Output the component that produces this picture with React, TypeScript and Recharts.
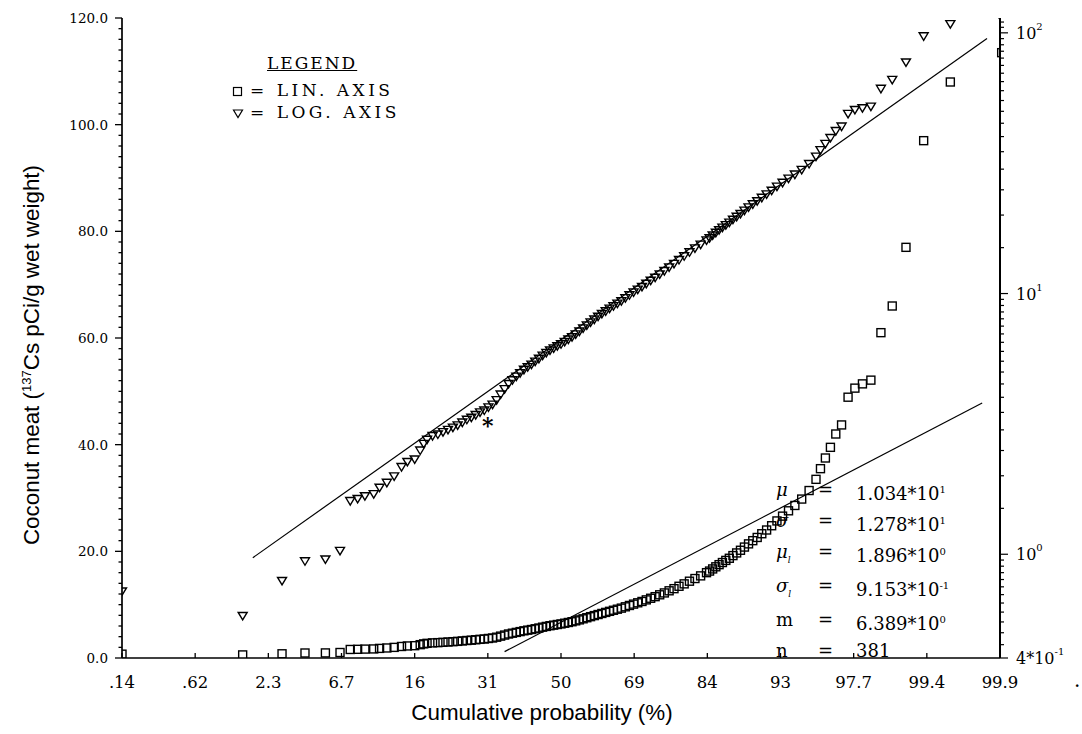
import React from 'react';
import { ComposedChart, Scatter, Line, XAxis, YAxis } from 'recharts';

// cumulative probability (%) of each plotted sample
const cumProb = [
  0.135, 1.48, 2.83, 4.01, 5.37, 6.55, 7.49, 8.23, 9.01, 10.03, 10.75, 11.7, 12.71, 13.79, 14.69, 15.87, 16.8, 17.4,
  18, 19, 20, 21, 22, 23, 24, 25, 26, 27, 28, 29, 30, 31, 32, 33, 34, 35, 36, 37, 38, 39, 40, 41, 42, 43, 44, 45,
  46, 47, 48, 49, 50, 51, 52, 53, 54, 55, 56, 57, 58, 59, 60, 61, 62, 63, 64, 65, 66, 67, 68, 69, 70, 71, 72, 73,
  74, 75, 76, 77, 78, 79, 80, 81, 82, 83, 84,
  84.5, 85, 85.5, 86, 86.5, 87, 87.5, 88, 88.5, 89, 89.5, 90, 90.5, 91, 91.5, 92, 92.5, 93, 93.5, 94, 94.5, 95, 95.5,
  95.93, 96.19, 96.46, 96.72, 96.98, 97.24, 97.51, 97.77, 98.03, 98.29, 98.56, 98.82, 99.08, 99.34, 99.61, 99.87,
];
// 137Cs, pCi/g wet weight (same samples drawn on the linear and the log axis)
const conc = [
  0.72, 0.58, 0.79, 0.94, 0.955, 1.03, 1.6, 1.63, 1.67, 1.7, 1.8, 1.88, 1.99, 2.16, 2.26, 2.31, 2.5, 2.65,
  2.75, 2.84, 2.88, 2.94, 3.0, 3.06, 3.12, 3.2, 3.28, 3.34, 3.42, 3.5, 3.56, 3.66, 3.75, 3.9, 4.1, 4.3, 4.5, 4.65,
  4.8, 4.95, 5.1, 5.22, 5.34, 5.48, 5.62, 5.78,
  5.92, 6.05, 6.16, 6.28, 6.39, 6.52, 6.66, 6.8, 6.97, 7.15, 7.35, 7.55, 7.75, 7.95, 8.15, 8.35, 8.55, 8.75, 8.95, 9.15,
  9.35, 9.6, 9.85, 10.1, 10.35, 10.6, 10.9, 11.2,
  11.5, 11.85, 12.2, 12.6, 13.0, 13.45, 13.9, 14.4, 14.9, 15.4, 16.0,
  16.3, 16.7, 17.1, 17.5, 17.9, 18.3, 18.7, 19.2, 19.7, 20.2, 20.8, 21.4, 22.0, 22.6, 23.3, 24.0, 24.8, 25.7, 26.6,
  27.6, 28.6, 29.8, 31.4,
  33.5, 35.5, 37.5, 39.5, 42.0, 43.7, 48.9, 50.6, 51.4, 52.1, 61, 66, 77, 97, 108, 113.5,
];

// fitted lines, end points
const linFitProb = [35, 99.8];
const linFitConc = [1.2, 47.8];
const logFitProb = [1.76, 99.82];
const logFitConc = [0.97, 95.2];

const xTickZ = [-3, -2.5, -2, -1.5, -1, -0.5, 0, 0.5, 1, 1.5, 2, 2.5, 3];
const xTickLabels = ['.14', '.62', '2.3', '6.7', '16', '31', '50', '69', '84', '93', '97.7', '99.4', '99.9'];
const linMajor = [0, 20, 40, 60, 80, 100, 120];
const logMajor = [0.4, 1, 10, 100];
const logMajorLabels = [['4*10', '-1'], ['10', '0'], ['10', '1'], ['10', '2']];

// inverse normal cdf (Acklam) -> probability paper scale
function probit(p: number) {
  const a = [-39.69683028665376, 220.9460984245205, -275.9285104469687, 138.357751867269, -30.66479806614716, 2.506628277459239];
  const b = [-54.47609879822406, 161.5858368580409, -155.6989798598866, 66.80131188771972, -13.28068155288572];
  const c = [-0.007784894002430293, -0.3223964580411365, -2.400758277161838, -2.549732539343734, 4.374664141464968, 2.938163982698783];
  const d = [0.007784695709041462, 0.3224671290700398, 2.445134137142996, 3.754408661907416];
  const lo = 0.02425;
  if (p < lo) {
    const q = Math.sqrt(-2 * Math.log(p));
    return (((((c[0] * q + c[1]) * q + c[2]) * q + c[3]) * q + c[4]) * q + c[5]) / ((((d[0] * q + d[1]) * q + d[2]) * q + d[3]) * q + 1);
  }
  if (p > 1 - lo) {
    const q = Math.sqrt(-2 * Math.log(1 - p));
    return -(((((c[0] * q + c[1]) * q + c[2]) * q + c[3]) * q + c[4]) * q + c[5]) / ((((d[0] * q + d[1]) * q + d[2]) * q + d[3]) * q + 1);
  }
  const q = p - 0.5;
  const r = q * q;
  return ((((((a[0] * r + a[1]) * r + a[2]) * r + a[3]) * r + a[4]) * r + a[5]) * q) / (((((b[0] * r + b[1]) * r + b[2]) * r + b[3]) * r + b[4]) * r + 1);
}

const points = cumProb.map((p, i) => ({ z: probit(p / 100), lin: conc[i], log: conc[i] }));
const linFit = linFitProb.map((p, i) => ({ z: probit(p / 100), lin: linFitConc[i] }));
const logFit = logFitProb.map((p, i) => ({ z: probit(p / 100), log: logFitConc[i] }));

const linTicks: number[] = [];
for (let v = 0; v <= 120; v += 2) linTicks.push(v);
const logTicks: number[] = [0.4];
[0.1, 1, 10].forEach((d) => {
  for (let m = 1; m < 10; m += 0.5) {
    const v = +(m * d).toFixed(3);
    if (v > 0.4) logTicks.push(v);
  }
});
logTicks.push(100, 105, 110);

const serif = '"DejaVu Serif", "Liberation Serif", serif';
const sans = '"Liberation Sans", Arial, sans-serif';

const SquareMark = (props: any) => {
  const { cx, cy } = props;
  if (cx == null || cy == null) return null;
  return <rect x={cx - 4} y={cy - 4} width={8} height={8} fill="none" stroke="#000" strokeWidth={1.4} />;
};

const TriMark = (props: any) => {
  const { cx, cy } = props;
  if (cx == null || cy == null) return null;
  return <path d={`M${cx - 4.5},${cy - 3.5} L${cx + 4.5},${cy - 3.5} L${cx},${cy + 4} Z`} fill="none" stroke="#000" strokeWidth={1.4} />;
};

const LinTick = (props: any) => {
  const { x, y, payload } = props;
  const major = linMajor.includes(payload.value);
  return (
    <g>
      <line x1={x} x2={x - (major ? 7 : 3.5)} y1={y} y2={y} stroke="#000" strokeWidth={1.3} />
      {major && (
        <text x={x - 14} y={y} dy={5} textAnchor="end" fontFamily={serif} fontSize={13.5} fill="#000">
          {payload.value.toFixed(1)}
        </text>
      )}
    </g>
  );
};

const LogTick = (props: any) => {
  const { x, y, payload } = props;
  const idx = logMajor.indexOf(payload.value);
  const major = idx >= 0;
  return (
    <g>
      <line x1={x} x2={x + (major ? 8 : 4)} y1={y} y2={y} stroke="#000" strokeWidth={1.2} />
      {major && (
        <text x={x + 16} y={y} dy={6} fontFamily={serif} fontSize={16} fill="#000">
          {logMajorLabels[idx][0]}
          <tspan dy={-9} fontSize={10}>{logMajorLabels[idx][1]}</tspan>
        </text>
      )}
    </g>
  );
};

const ProbTick = (props: any) => {
  const { x, y, payload } = props;
  const idx = xTickZ.indexOf(payload.value);
  return (
    <g>
      <line x1={x} x2={x} y1={y} y2={y - 5} stroke="#000" strokeWidth={1.3} />
      <text x={x} y={y + 30} textAnchor="middle" fontFamily={serif} fontSize={16.5} fill="#000">
        {xTickLabels[idx]}
      </text>
    </g>
  );
};

const statRows = [
  { sym: 'μ', sub: '', val: '1.034*10', exp: '1' },
  { sym: 'σ', sub: '', val: '1.278*10', exp: '1' },
  { sym: 'μ', sub: 'l', val: '1.896*10', exp: '0' },
  { sym: 'σ', sub: 'l', val: '9.153*10', exp: '-1' },
  { sym: 'm', sub: '', val: '6.389*10', exp: '0' },
  { sym: 'n', sub: '', val: '381', exp: '' },
];

const legendRow: React.CSSProperties = {
  position: 'absolute', left: 232, whiteSpace: 'nowrap', fontFamily: serif, fontSize: 17, color: '#000',
  letterSpacing: 3.5, lineHeight: '20px', transform: 'translateY(-50%)',
};

export default function App() {
  return (
    <div style={{ position: 'absolute', left: 0, top: 0, width: 1082, height: 734, background: '#fff' }}>
      <ComposedChart width={1082} height={734} margin={{ top: 18, right: 32, bottom: 36, left: 40 }}>
        <XAxis
          dataKey="z"
          type="number"
          domain={[-3, 3]}
          ticks={xTickZ}
          interval={0}
          allowDataOverflow
          height={40}
          tickSize={0}
          tickMargin={0}
          tickLine={false}
          tick={<ProbTick />}
          axisLine={{ stroke: '#000', strokeWidth: 1.7 }}
        />
        <YAxis
          yAxisId="lin"
          dataKey="lin"
          type="number"
          domain={[0, 120]}
          ticks={linTicks}
          interval={0}
          allowDataOverflow
          width={82}
          tickSize={0}
          tickMargin={0}
          tickLine={false}
          tick={<LinTick />}
          axisLine={{ stroke: '#000', strokeWidth: 1.7 }}
        />
        <YAxis
          yAxisId="log"
          dataKey="log"
          orientation="right"
          type="number"
          scale="log"
          domain={[0.4, 114]}
          ticks={logTicks}
          interval={0}
          allowDataOverflow
          width={50}
          tickSize={0}
          tickMargin={0}
          tickLine={false}
          tick={<LogTick />}
          axisLine={{ stroke: '#000', strokeWidth: 2 }}
        />
        <Line data={logFit} dataKey="log" yAxisId="log" stroke="#000" strokeWidth={1.2} dot={false} isAnimationActive={false} />
        <Line data={linFit} dataKey="lin" yAxisId="lin" stroke="#000" strokeWidth={1.2} dot={false} isAnimationActive={false} />
        <Scatter data={points} dataKey="log" yAxisId="log" shape={<TriMark />} isAnimationActive={false} />
        <Scatter data={points} dataKey="lin" yAxisId="lin" shape={<SquareMark />} isAnimationActive={false} />
      </ComposedChart>

      <div
        style={{
          position: 'absolute', left: 32, top: 355, transform: 'translate(-50%, -50%) rotate(-90deg)',
          whiteSpace: 'nowrap', fontFamily: sans, fontSize: 22.4, color: '#000',
        }}
      >
        Coconut meat (<sup style={{ fontSize: 13 }}>137</sup>Cs pCi/g wet weight)
      </div>
      <div
        style={{
          position: 'absolute', left: 542, top: 713, transform: 'translate(-50%, -50%)',
          whiteSpace: 'nowrap', fontFamily: sans, fontSize: 22.4, color: '#000',
        }}
      >
        Cumulative probability (%)
      </div>

      <div style={{ ...legendRow, left: 267, top: 63, letterSpacing: 2, textDecoration: 'underline' }}>LEGEND</div>
      <div style={{ ...legendRow, top: 90 }}>
        <svg width={12} height={12} style={{ marginRight: 6, verticalAlign: 'middle' }}>
          <rect x={1.5} y={1.5} width={8} height={8} fill="#fff" stroke="#000" strokeWidth={1.2} />
        </svg>
        = LIN. AXIS
      </div>
      <div style={{ ...legendRow, top: 112 }}>
        <svg width={12} height={12} style={{ marginRight: 6, verticalAlign: 'middle' }}>
          <path d="M1.5,2 L10.5,2 L6,9.5 Z" fill="#fff" stroke="#000" strokeWidth={1.2} />
        </svg>
        = LOG. AXIS
      </div>

      <div style={{ position: 'absolute', left: 776, top: 477, fontFamily: serif, fontSize: 18, color: '#000', lineHeight: '26.8px' }}>
        {statRows.map((r, i) => (
          <div key={i} style={{ whiteSpace: 'nowrap', display: 'flex' }}>
            <span style={{ width: 42, fontStyle: r.sym === 'm' || r.sym === 'n' ? 'normal' : 'italic' }}>
              {r.sym}
              {r.sub && <sub style={{ fontSize: 9 }}>{r.sub}</sub>}
            </span>
            <span style={{ width: 38 }}>=</span>
            <span>
              {r.val}
              {r.exp && <sup style={{ fontSize: 10 }}>{r.exp}</sup>}
            </span>
          </div>
        ))}
      </div>

      <div style={{ position: 'absolute', left: 482, top: 412, fontFamily: serif, fontSize: 22, fontWeight: 'bold', color: '#000' }}>*</div>
      <div style={{ position: 'absolute', left: 1074, top: 668, fontFamily: serif, fontSize: 20, color: '#000' }}>.</div>
    </div>
  );
}
